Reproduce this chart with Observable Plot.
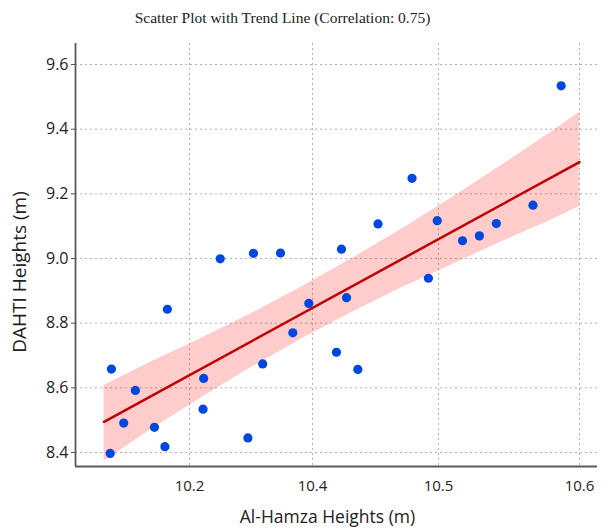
<!DOCTYPE html>
<html>
<head>
<meta charset="utf-8">
<script src="https://cdn.jsdelivr.net/npm/d3@7"></script>
<script src="https://cdn.jsdelivr.net/npm/@observablehq/plot@0.6"></script>
<style>
  html, body { margin: 0; padding: 0; background: #fff; }
</style>
</head>
<body>
<div id="chart"></div>
<script>
// ---- data ----
const alHamza = [10.073, 10.071, 10.093, 10.112, 10.143, 10.160, 10.164, 10.223, 10.222, 10.250,
                 10.295, 10.304, 10.319, 10.348, 10.368, 10.394, 10.419, 10.423, 10.427, 10.436,
                 10.452, 10.479, 10.492, 10.499, 10.517, 10.529, 10.541, 10.567, 10.587];
const dahti   = [8.658, 8.397, 8.491, 8.592, 8.478, 8.418, 8.843, 8.629, 8.534, 8.999,
                 8.445, 9.016, 8.674, 9.017, 8.770, 8.861, 8.710, 9.029, 8.879, 8.657,
                 9.107, 9.248, 8.939, 9.117, 9.055, 9.070, 9.108, 9.165, 9.534];

const trendX = [10.061, 10.600];
const trendY = [8.495, 9.298];

const bandX    = [10.061, 10.137, 10.218, 10.299, 10.385, 10.430, 10.470, 10.509, 10.544, 10.579, 10.600];
const bandLow  = [8.373, 8.470, 8.568, 8.661, 8.754, 8.831, 8.908, 8.980, 9.050, 9.117, 9.161];
const bandHigh = [8.607, 8.680, 8.752, 8.828, 8.915, 8.997, 9.089, 9.186, 9.286, 9.388, 9.452];

const xTicks = [10.2, 10.4, 10.5, 10.6];
const yTicks = [8.4, 8.6, 8.8, 9.0, 9.2, 9.4, 9.6];

const titleText = "Scatter Plot with Trend Line (Correlation: 0.75)";
const xLabel = "Al-Hamza Heights (m)";
const yLabel = "DAHTI Heights (m)";

// ---- tables built from the arrays ----
const points = alHamza.map((x, i) => ({x, y: dahti[i]}));
const trend = trendX.map((x, i) => ({x, y: trendY[i]}));
const band = bandX.map((x, i) => ({x, lo: bandLow[i], hi: bandHigh[i]}));

// The reference's x axis is unevenly spaced: ticks sit at these fractions of the axis.
const xDomain = [10.0146, 10.6128];
const xTickFrac = [0.2184, 0.4540, 0.6954, 0.9655];
const xWarp = d3.scaleLinear()
  .domain([xDomain[0], ...xTicks, xDomain[1]])
  .range([0, ...xTickFrac, 1].map(f => xDomain[0] + f * (xDomain[1] - xDomain[0])));
const yDomain = [8.3567, 9.665];

const fmt = d3.format(".1f");

const chart = Plot.plot({
  width: 609,
  height: 529,
  marginLeft: 75,
  marginRight: 12,
  marginTop: 43,
  marginBottom: 63,
  style: {fontFamily: "'Open Sans', sans-serif", background: "#fff", color: "#222"},
  x: {domain: xDomain, transform: (v) => xWarp(v), axis: null},
  y: {domain: yDomain, axis: null},
  marks: [
    Plot.gridX(xTicks, {stroke: "#b0b0b0", strokeOpacity: 1, strokeDasharray: "2,3"}),
    Plot.gridY(yTicks, {stroke: "#b0b0b0", strokeOpacity: 1, strokeDasharray: "2,3"}),
    Plot.areaY(band, {x: "x", y1: "lo", y2: "hi", fill: "#ff0000", fillOpacity: 0.2}),
    Plot.line(trend, {x: "x", y: "y", stroke: "#c00000", strokeWidth: 2.5}),
    Plot.dot(points, {x: "x", y: "y", r: 4.6, fill: "#0047e0", stroke: "none"}),
    Plot.ruleX([xDomain[0]], {stroke: "#5a5a5a", strokeWidth: 1.8}),
    Plot.ruleY([yDomain[0]], {stroke: "#5a5a5a", strokeWidth: 1.8}),
    Plot.axisX(xTicks, {tickSize: 0, tickPadding: 14, fontSize: 15, label: null, tickFormat: fmt, fill: "#222"}),
    Plot.axisY(yTicks, {tickSize: 4, tickPadding: 3, fontSize: 16, label: null, tickFormat: fmt, fill: "#222", stroke: "#555"}),
    Plot.text([titleText], {frameAnchor: "top", dx: -54, dy: -25, lineAnchor: "middle",
      fontSize: 15.5, fontFamily: "'Liberation Serif', serif", fill: "#222"}),
    Plot.text([xLabel], {frameAnchor: "bottom", dx: -9, dy: 51, lineAnchor: "middle",
      fontSize: 17.5, fill: "#222"}),
    Plot.text([yLabel], {frameAnchor: "left", textAnchor: "middle", dx: -56, dy: 17, lineAnchor: "middle", rotate: -90,
      fontSize: 19, fill: "#222", letterSpacing: "2px"})
  ]
});
document.getElementById("chart").appendChild(chart);
</script>
</body>
</html>
